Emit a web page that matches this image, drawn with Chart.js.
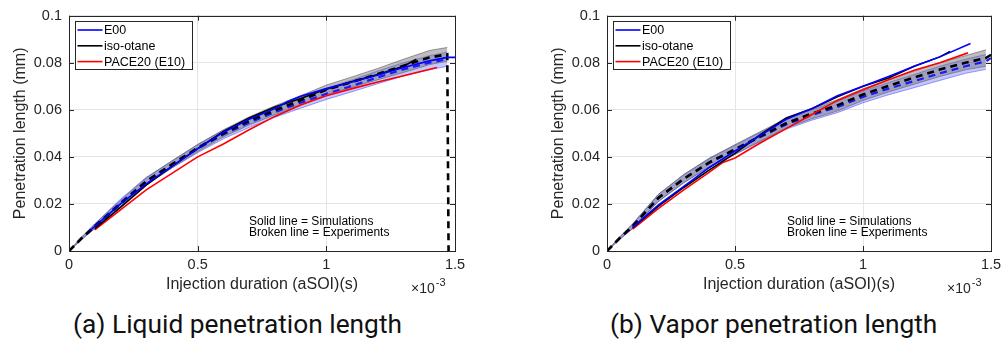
<!DOCTYPE html>
<html>
<head>
<meta charset="utf-8">
<script src="https://cdn.jsdelivr.net/npm/chart.js@4.4.1/dist/chart.umd.min.js"></script>
<style>
  body { margin: 0; background: #fff; width: 1005px; height: 342px; position: relative; overflow: hidden; }
  #liquid { position: absolute; left: 0; top: 0; }
  #vapor { position: absolute; left: 538px; top: 0; }
  .cap { position: absolute; top: 309px; font-family: Roboto, sans-serif; font-size: 26.3px; line-height: 30px; color: #111; white-space: nowrap; }
</style>
</head>
<body>
<canvas id="liquid" width="480" height="300"></canvas>
<canvas id="vapor" width="478" height="300"></canvas>
<div class="cap" style="left:73px">(a) Liquid penetration length</div>
<div class="cap" style="left:610px">(b) Vapor penetration length</div>
<script>
// x in units of 1e-3 s, y in mm
const legendLabels = ["E00", "iso-otane", "PACE20 (E10)"];
const legendColors = ["#0000ff", "#000000", "#ff0000"];
const xTicks = [0, 0.5, 1, 1.5];
const yTicks = [0, 0.02, 0.04, 0.06, 0.08, 0.1];

// ---- liquid penetration ----
const liqBandX = [0, 0.05, 0.1, 0.2, 0.3, 0.4, 0.5, 0.6, 0.7, 0.8, 0.9, 1.0, 1.1, 1.2, 1.3, 1.4, 1.47];
const liqIsoHi = [0, 0.006, 0.0115, 0.0215, 0.031, 0.0383, 0.0453, 0.0515, 0.057, 0.0617, 0.066, 0.0705, 0.074, 0.0776, 0.0815, 0.0852, 0.0865];
const liqIsoLo = [0, 0.005, 0.0095, 0.0185, 0.028, 0.0353, 0.0423, 0.0485, 0.0536, 0.0579, 0.062, 0.0665, 0.0696, 0.0728, 0.0759, 0.0792, 0.0807];
const liqE00Hi = [0, 0.006, 0.0115, 0.022, 0.0313, 0.0383, 0.0452, 0.0513, 0.0565, 0.0612, 0.0653, 0.0692, 0.0727, 0.0765, 0.08, 0.083, 0.0845];
const liqE00Lo = [0, 0.005, 0.0095, 0.019, 0.0283, 0.0353, 0.0418, 0.0477, 0.0525, 0.0568, 0.0607, 0.0644, 0.0677, 0.0711, 0.0744, 0.077, 0.0785];
const liqExpIsoX = [0, 0.05, 0.1, 0.2, 0.3, 0.4, 0.5, 0.6, 0.7, 0.8, 0.9, 1.0, 1.1, 1.2, 1.3, 1.4, 1.47, 1.475];
const liqExpIso = [0, 0.0055, 0.0105, 0.02, 0.0295, 0.0368, 0.0438, 0.05, 0.0553, 0.0598, 0.064, 0.0685, 0.0718, 0.0752, 0.0787, 0.0822, 0.0836, 0];
const liqExpE00X = [0, 0.05, 0.1, 0.2, 0.3, 0.4, 0.5, 0.6, 0.7, 0.8, 0.9, 1.0, 1.1, 1.2, 1.3, 1.4, 1.47];
const liqExpE00 = [0, 0.0055, 0.0105, 0.0205, 0.0298, 0.0368, 0.0435, 0.0495, 0.0545, 0.059, 0.063, 0.0668, 0.0702, 0.0738, 0.0772, 0.08, 0.0815];
const liqSimE00X = [0.08, 0.1, 0.2, 0.3, 0.4, 0.5, 0.6, 0.7, 0.8, 0.85, 0.9, 1.0, 1.1, 1.2, 1.3, 1.4, 1.47, 1.5];
const liqSimE00 = [0.0085, 0.0105, 0.02, 0.0285, 0.036, 0.0435, 0.0505, 0.056, 0.0605, 0.0635, 0.0658, 0.069, 0.0718, 0.0748, 0.078, 0.0808, 0.0823, 0.0823];
const liqSimIsoX = [0.1, 0.2, 0.3, 0.4, 0.5, 0.6, 0.7, 0.8, 0.9, 1.0, 1.1, 1.2, 1.3, 1.35];
const liqSimIso = [0.0095, 0.0185, 0.028, 0.036, 0.0435, 0.0508, 0.0565, 0.0612, 0.0648, 0.0688, 0.072, 0.075, 0.0785, 0.0815];
const liqSimPaceX = [0.1, 0.2, 0.3, 0.4, 0.45, 0.5, 0.6, 0.7, 0.8, 0.9, 1.0, 1.1, 1.2, 1.3, 1.43];
const liqSimPace = [0.009, 0.0175, 0.026, 0.033, 0.0365, 0.04, 0.0455, 0.0515, 0.0572, 0.062, 0.066, 0.069, 0.0718, 0.0745, 0.078];

// ---- vapor penetration ----
const vapBandX = [0, 0.05, 0.1, 0.2, 0.3, 0.4, 0.5, 0.6, 0.7, 0.8, 0.9, 1.0, 1.1, 1.2, 1.3, 1.4, 1.48];
const vapIsoHi = [0, 0.006, 0.0115, 0.024, 0.0325, 0.0395, 0.0452, 0.0508, 0.0563, 0.0606, 0.0643, 0.069, 0.0728, 0.0765, 0.08, 0.083, 0.0855];
const vapIsoLo = [0, 0.005, 0.0095, 0.021, 0.029, 0.0359, 0.0412, 0.0468, 0.0523, 0.0562, 0.0595, 0.064, 0.0676, 0.0709, 0.0742, 0.077, 0.0785];
const vapE00Hi = [0, 0.006, 0.0115, 0.024, 0.0325, 0.0393, 0.045, 0.0505, 0.0558, 0.06, 0.0636, 0.068, 0.0716, 0.075, 0.0785, 0.0815, 0.0835];
const vapE00Lo = [0, 0.005, 0.0095, 0.021, 0.029, 0.0357, 0.041, 0.0465, 0.0518, 0.0556, 0.0588, 0.063, 0.0664, 0.0694, 0.0725, 0.0755, 0.0772];
const vapExpX = [0, 0.05, 0.1, 0.2, 0.3, 0.4, 0.5, 0.6, 0.7, 0.8, 0.9, 1.0, 1.1, 1.2, 1.3, 1.4, 1.48, 1.5];
const vapExpIso = [0, 0.0055, 0.0105, 0.0225, 0.0307, 0.0377, 0.0432, 0.0488, 0.0543, 0.0584, 0.0619, 0.0665, 0.0702, 0.0737, 0.0771, 0.08, 0.082, 0.0834];
const vapExpE00 = [0, 0.0055, 0.0105, 0.0225, 0.0307, 0.0375, 0.043, 0.0485, 0.0538, 0.0578, 0.0612, 0.0655, 0.069, 0.0722, 0.0755, 0.0785, 0.0806, 0.082];
const vapSimE00X = [0.1, 0.2, 0.3, 0.4, 0.5, 0.6, 0.7, 0.8, 0.9, 1.0, 1.1, 1.2, 1.3, 1.42];
const vapSimE00 = [0.01, 0.0195, 0.0275, 0.0355, 0.0425, 0.0492, 0.056, 0.0605, 0.066, 0.07, 0.0742, 0.0785, 0.0825, 0.0882];
const vapSimIsoX = [0.1, 0.2, 0.3, 0.4, 0.5, 0.6, 0.7, 0.8, 0.9, 1.0, 1.1, 1.2, 1.3, 1.34];
const vapSimIso = [0.0098, 0.019, 0.027, 0.0345, 0.0415, 0.0495, 0.0565, 0.0605, 0.0655, 0.07, 0.0735, 0.0785, 0.0825, 0.0848];
const vapSimPaceX = [0.1, 0.2, 0.3, 0.4, 0.45, 0.5, 0.6, 0.7, 0.8, 0.9, 1.0, 1.1, 1.2, 1.3, 1.41];
const vapSimPace = [0.0093, 0.018, 0.026, 0.0335, 0.0375, 0.0395, 0.046, 0.052, 0.058, 0.064, 0.0685, 0.0728, 0.0768, 0.08, 0.0842];

const FONT = "'Liberation Sans', Arial, Helvetica, sans-serif";
const INK = "#262626";

function pts(xs, ys) {
  return xs.map((x, i) => ({ x: x, y: ys[i] }));
}

function solid(xs, ys, color) {
  return { data: pts(xs, ys), borderColor: color, borderWidth: 1.6, order: 0 };
}
function dashed(xs, ys, color, w) {
  return { data: pts(xs, ys), borderColor: color, borderWidth: w, borderDash: [7, 5], order: 1 };
}
function bandHi(xs, ys, fillColor, edge) {
  return { data: pts(xs, ys), borderColor: edge, borderWidth: 1, backgroundColor: fillColor, fill: "+1", order: 2 };
}
function bandLo(xs, ys, edge) {
  return { data: pts(xs, ys), borderColor: edge, borderWidth: 1, fill: false, order: 2 };
}

// MATLAB-like frame, inward ticks, legend box and annotations
const matlabFrame = {
  id: "matlabFrame",
  afterDraw(chart) {
    const ctx = chart.ctx;
    const a = chart.chartArea;
    const xs = chart.scales.x, ys = chart.scales.y;
    ctx.save();
    ctx.strokeStyle = INK;
    ctx.lineWidth = 1;
    ctx.beginPath();
    xTicks.forEach(v => {
      const px = Math.round(xs.getPixelForValue(v)) + 0.5;
      ctx.moveTo(px, a.bottom); ctx.lineTo(px, a.bottom - 5);
      ctx.moveTo(px, a.top); ctx.lineTo(px, a.top + 5);
    });
    yTicks.forEach(v => {
      const py = Math.round(ys.getPixelForValue(v)) + 0.5;
      ctx.moveTo(a.left, py); ctx.lineTo(a.left + 5, py);
      ctx.moveTo(a.right, py); ctx.lineTo(a.right - 5, py);
    });
    ctx.stroke();
    ctx.strokeRect(Math.round(a.left) + 0.5, Math.round(a.top) + 0.5, Math.round(a.right - a.left), Math.round(a.bottom - a.top));

    // legend
    const bx = Math.round(a.left) + 6.5, by = Math.round(a.top) + 5.5;
    ctx.fillStyle = "#fff";
    ctx.fillRect(bx, by, 117, 48);
    ctx.strokeRect(bx, by, 117, 48);
    ctx.font = "12.5px " + FONT;
    ctx.textBaseline = "middle";
    ctx.textAlign = "left";
    legendLabels.forEach((lab, i) => {
      const y = by + 8.5 + i * 15.8;
      ctx.strokeStyle = legendColors[i];
      ctx.lineWidth = 1.6;
      ctx.beginPath();
      ctx.moveTo(bx + 2, y); ctx.lineTo(bx + 27, y);
      ctx.stroke();
      ctx.fillStyle = "#000";
      ctx.fillText(lab, bx + 28.5, y + 0.5);
    });

    // notes
    ctx.font = "12px " + FONT;
    ctx.fillStyle = "#000";
    ctx.fillText("Solid line = Simulations", a.left + 180, 222);
    ctx.fillText("Broken line = Experiments", a.left + 180, 232.5);

    // exponent label
    ctx.fillStyle = INK;
    ctx.textBaseline = "alphabetic";
    ctx.font = "14px " + FONT;
    const ex = a.right - 44;
    ctx.fillText("\u00d710", ex, 293);
    const w = ctx.measureText("\u00d710").width;
    ctx.font = "11px " + FONT;
    ctx.fillText("-3", ex + w + 1, 286);
    ctx.restore();
  }
};

function makeChart(id, datasets, padTop) {
  return new Chart(document.getElementById(id), {
    type: "line",
    data: { datasets: datasets },
    plugins: [matlabFrame],
    options: {
      responsive: false,
      animation: false,
      parsing: true,
      layout: { padding: { top: padTop, right: 25, left: 0, bottom: 0 } },
      elements: { point: { radius: 0 }, line: { tension: 0 } },
      plugins: { legend: { display: false }, tooltip: { enabled: false } },
      scales: {
        x: {
          type: "linear", min: 0, max: 1.5,
          afterBuildTicks: s => { s.ticks = xTicks.map(v => ({ value: v })); },
          ticks: { color: INK, font: { family: FONT, size: 14.5 }, padding: 5, maxRotation: 0, callback: v => String(v) },
          grid: { color: "#e4e4e4", drawTicks: false },
          border: { display: false },
          title: { display: true, text: "Injection duration (aSOI)(s)", color: INK, font: { family: FONT, size: 16 }, padding: { top: 0, bottom: 6 } },
          afterFit: s => { s.height = 49; }
        },
        y: {
          min: 0, max: 0.1,
          afterBuildTicks: s => { s.ticks = yTicks.map(v => ({ value: v })); },
          ticks: { color: INK, font: { family: FONT, size: 14.5 }, padding: 7, callback: v => String(+v.toFixed(3)) },
          grid: { color: "#e4e4e4", drawTicks: false },
          border: { display: false },
          title: { display: true, text: "Penetration length (mm)", color: INK, font: { family: FONT, size: 16 }, padding: { top: 11, bottom: 4 } },
          afterFit: s => { s.width = 69; }
        }
      }
    }
  });
}

makeChart("liquid", [
  solid(liqSimE00X, liqSimE00, "#0000ff"),
  solid(liqSimIsoX, liqSimIso, "#000000"),
  solid(liqSimPaceX, liqSimPace, "#ff0000"),
  dashed(liqExpIsoX, liqExpIso, "#000000", 2.6),
  dashed(liqExpE00X, liqExpE00, "#1a1aff", 2.2),
  bandHi(liqBandX, liqIsoHi, "rgba(110,110,110,0.45)", "rgba(90,90,90,0.6)"),
  bandLo(liqBandX, liqIsoLo, "rgba(90,90,90,0.6)"),
  bandHi(liqBandX, liqE00Hi, "rgba(70,70,255,0.3)", "rgba(60,60,255,0.5)"),
  bandLo(liqBandX, liqE00Lo, "rgba(60,60,255,0.5)")
], 13);

makeChart("vapor", [
  solid(vapSimE00X, vapSimE00, "#0000ff"),
  solid(vapSimIsoX, vapSimIso, "#000000"),
  solid(vapSimPaceX, vapSimPace, "#ff0000"),
  dashed(vapExpX, vapExpIso, "#000000", 2.6),
  dashed(vapExpX, vapExpE00, "#1a1aff", 2.2),
  bandHi(vapBandX, vapIsoHi, "rgba(110,110,110,0.45)", "rgba(90,90,90,0.6)"),
  bandLo(vapBandX, vapIsoLo, "rgba(90,90,90,0.6)"),
  bandHi(vapBandX, vapE00Hi, "rgba(70,70,255,0.3)", "rgba(60,60,255,0.5)"),
  bandLo(vapBandX, vapE00Lo, "rgba(60,60,255,0.5)")
], 10);
</script>
</body>
</html>
